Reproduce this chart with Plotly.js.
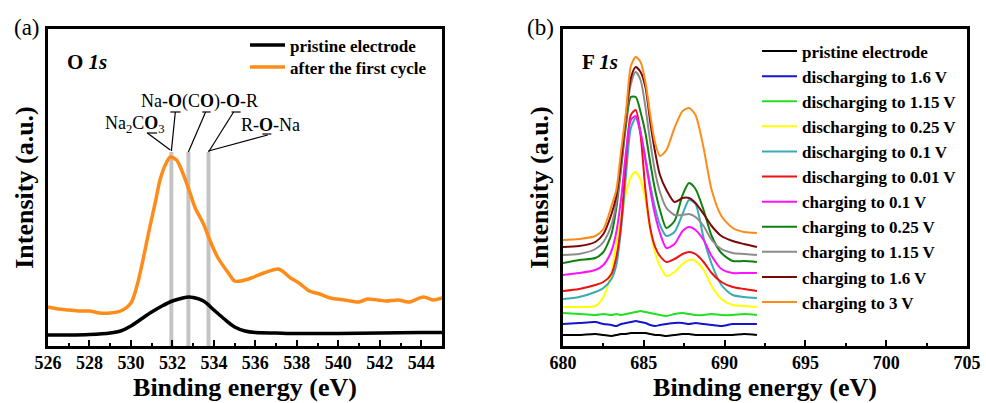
<!DOCTYPE html>
<html>
<head>
<meta charset="utf-8">
<script src="https://cdn.plot.ly/plotly-3.0.1.min.js"></script>
<style>html,body{margin:0;padding:0;background:#fff;}#chart{width:986px;height:403px;}</style>
</head>
<body>
<div id="chart"></div>
<script>
// ---------- Panel (a): O 1s ----------
const oEnergyPristine = [526, 527, 528, 529, 529.5, 530, 530.5, 531, 531.5, 532, 532.5, 532.8, 533, 533.5, 534, 534.5, 535, 535.5, 536, 537, 538, 540, 542, 544, 545];
const oPristine = [11, 11, 11.5, 13, 15, 20, 27, 34, 40, 45, 48, 49, 48.5, 45, 36, 27, 19, 15, 13.5, 13, 12.5, 12.5, 13, 13.5, 13.5];
const oEnergyCycled = [526, 526.5, 527, 527.5, 528, 528.5, 529, 529.5, 530, 530.3, 530.6, 530.9, 531.2, 531.4, 531.7, 531.9, 532.2, 532.5, 532.8, 533.1, 533.5, 533.8, 534.2, 534.7, 535.0, 535.3, 535.8, 536.4, 537.1, 537.3, 537.7, 538.1, 538.6, 539.1, 539.6, 540.3, 541.0, 541.4, 541.9, 542.3, 542.9, 543.4, 544.1, 544.6, 545];
const oCycled = [39, 37, 36, 35, 35, 33, 33, 35, 43, 61, 88, 118, 146, 166, 183, 189, 186, 173, 156, 138, 122, 106, 88, 73, 65, 65, 68, 73, 77, 75, 68, 63, 55, 52, 48, 46, 44, 47, 46, 45, 46, 44, 49, 46, 48];
const oSeriesNames = ['pristine electrode', 'after the first cycle'];
const oComponentEnergies = [531.95, 532.77, 533.74];   // Na2CO3, Na-O(CO)-O-R, R-O-Na
const oComponentTop = 194;

// ---------- Panel (b): F 1s ----------
const fEnergy = [680, 681, 682, 682.5, 683, 683.3, 683.6, 683.9, 684.2, 684.5, 684.8, 685.1, 685.4, 685.7, 686.0, 686.4, 686.9, 687.4, 687.8, 688.2, 688.7, 689.2, 689.8, 690.5, 691.2, 692];
const fPristine   = [11, 11, 12, 11, 10, 11, 12, 12, 13, 13, 13, 13, 12, 11, 11, 10, 11, 12, 12, 11, 11, 11, 11, 11, 12, 11];
const fDis16      = [22, 23, 24, 22, 21, 20, 22, 23, 24, 25, 24, 23, 21, 20, 21, 22, 23, 23, 22, 23, 22, 21, 20, 22, 22, 22];
const fDis115     = [33, 32, 31, 32, 31, 32, 31, 32, 33, 34, 35, 34, 33, 32, 31, 30, 32, 33, 32, 31, 31, 32, 31, 31, 32, 31];
const fDis025     = [39, 39, 40, 49, 74, 103, 129, 153, 169, 174, 166, 146, 116, 93, 80, 70, 74, 82, 86, 85, 76, 60, 47, 41, 40, 39];
const fDis01      = [47, 49, 54, 58, 67, 81, 118, 171, 218, 228, 213, 188, 161, 138, 121, 110, 114, 132, 146, 142, 108, 82, 61, 51, 49, 48];
const fDis001     = [55, 57, 61, 64, 72, 89, 123, 186, 231, 236, 211, 156, 118, 99, 90, 84, 87, 92, 94, 92, 84, 73, 64, 59, 57, 55];
const fCh01       = [71, 73, 76, 81, 95, 114, 148, 194, 226, 230, 214, 186, 156, 131, 113, 98, 102, 115, 119, 116, 106, 90, 77, 73, 73, 73];
const fCh025      = [83, 86, 88, 94, 112, 138, 178, 221, 249, 249, 234, 213, 183, 156, 136, 118, 125, 151, 163, 157, 136, 110, 93, 85, 85, 84];
const fCh115      = [91, 92, 97, 104, 121, 143, 181, 228, 262, 274, 266, 239, 204, 174, 154, 138, 131, 131, 132, 129, 120, 106, 97, 93, 92, 91];
const fCh16       = [99, 100, 104, 112, 132, 150, 186, 231, 268, 279, 274, 259, 224, 194, 171, 156, 144, 148, 148, 143, 132, 120, 110, 105, 102, 99];
const fCh3        = [106, 107, 110, 117, 140, 156, 196, 234, 280, 289, 284, 264, 231, 203, 190, 196, 218, 235, 238, 231, 198, 156, 130, 118, 114, 113];
const fSeriesNames = ['pristine electrode', 'discharging to 1.6 V', 'discharging to 1.15 V', 'discharging to 0.25 V', 'discharging to 0.1 V', 'discharging to 0.01 V', 'charging to 0.1 V', 'charging to 0.25 V', 'charging to 1.15 V', 'charging to 1.6 V', 'charging to 3 V'];
const fSeries = [fPristine, fDis16, fDis115, fDis025, fDis01, fDis001, fCh01, fCh025, fCh115, fCh16, fCh3];
const fColors = ['#000000', '#1515d0', '#22e022', '#ffff00', '#3aaab4', '#ee1111', '#ff11ff', '#118011', '#8c8c8c', '#7a0a0a', '#ff8c1a'];

const FONT = 'Liberation Serif, Times New Roman, serif';
const W = 986, H = 403;
const px = v => v / W, py = v => 1 - v / H;

const traces = [];
traces.push({x: oEnergyPristine, y: oPristine, name: oSeriesNames[0], type: 'scatter', mode: 'lines',
  line: {color: '#000000', width: 3.5, shape: 'spline', smoothing: 0.8}, xaxis: 'x', yaxis: 'y', legend: 'legend'});
traces.push({x: oEnergyCycled, y: oCycled, name: oSeriesNames[1], type: 'scatter', mode: 'lines',
  line: {color: '#ff8c1a', width: 3.5, shape: 'spline', smoothing: 0.8}, xaxis: 'x', yaxis: 'y', legend: 'legend3'});
fSeries.forEach((s, i) => {
  traces.push({x: fEnergy, y: s, name: fSeriesNames[i], type: 'scatter', mode: 'lines',
    line: {color: fColors[i], width: 2, shape: 'spline', smoothing: 0.7}, xaxis: 'x2', yaxis: 'y2', legend: 'legend2'});
});

const shapes = [];
oComponentEnergies.forEach(e => shapes.push({type: 'line', xref: 'x', yref: 'y', x0: e, x1: e, y0: 0, y1: oComponentTop,
  line: {color: '#c4c4c4', width: 4}, layer: 'below'}));
const lead = (x0, y0, x1, y1) => shapes.push({type: 'line', xref: 'x', yref: 'y', x0, y0, x1, y1, line: {color: '#000', width: 1.2}});
lead(530.79, 213, 531.90, 196);
lead(532.14, 234, 531.95, 195);
lead(533.60, 234, 532.77, 194);
lead(534.95, 234, 533.74, 194);
lead(536.60, 211, 533.74, 195);
// underlines of the emphasised O atoms
lead(531.90, 234, 532.39, 234);
lead(533.44, 234, 533.84, 234);
lead(534.85, 234, 535.29, 234);
lead(530.77, 213, 531.26, 213);
lead(536.34, 212, 536.77, 212);

const ann = (x, y, text, size, opts = {}) => Object.assign({xref: 'paper', yref: 'paper', x: px(x), y: py(y), text, showarrow: false,
  font: {family: FONT, size, color: '#000'}, xanchor: 'center', yanchor: 'middle'}, opts);

const annotations = [
  ann(27, 28, '(a)', 23),
  ann(540, 28, '(b)', 23),
  ann(65, 62, '<b>O <i>1s</i></b>', 21, {xanchor: 'left'}),
  ann(580, 62, '<b>F <i>1s</i></b>', 21, {xanchor: 'left'}),
  ann(199, 102, 'Na-<b>O</b>(C<b>O</b>)-<b>O</b>-R', 18),
  ann(135, 125, 'Na<sub>2</sub>C<b>O</b><sub>3</sub>', 18),
  ann(270, 125, 'R-<b>O</b>-Na', 18)
];

const tickFont = {family: FONT, size: 18, color: '#000', weight: 'bold'};
const titleFont = {family: FONT, size: 26, color: '#000', weight: 'bold'};
const legFont = {family: FONT, size: 17, color: '#000', weight: 'bold'};
const xBase = {showline: true, linewidth: 3, linecolor: '#000', mirror: true, showgrid: false, zeroline: false,
  ticks: 'inside', ticklen: 6, tickwidth: 2, tickcolor: '#000', tickfont: tickFont, automargin: false, ticklabelstandoff: -2,
  title: {text: 'Binding energy (eV)', font: titleFont, standoff: 2}};
const yBase = {showline: true, linewidth: 3, linecolor: '#000', mirror: true, showgrid: false, zeroline: false,
  showticklabels: false, ticks: '', range: [0, 317], automargin: false,
  title: {text: 'Intensity (a.u.)', font: titleFont, standoff: 4}};
const yDom = [1 - 346 / H, 1 - 29 / H];
const legBase = {xanchor: 'left', yanchor: 'top', bgcolor: 'rgba(0,0,0,0)', borderwidth: 0, font: legFont, tracegroupgap: 0, itemwidth: 35};

const layout = {
  width: W, height: H, margin: {l: 0, r: 0, t: 0, b: 0}, paper_bgcolor: '#fff', plot_bgcolor: '#fff',
  font: {family: FONT, color: '#000'},
  xaxis: Object.assign({}, xBase, {domain: [48 / W, 442 / W], anchor: 'y', range: [526, 545], tick0: 526, dtick: 2,
    minor: {dtick: 1, ticks: 'inside', ticklen: 3, tickwidth: 2, tickcolor: '#000', showgrid: false}}),
  yaxis: Object.assign({}, yBase, {domain: yDom, anchor: 'x'}),
  xaxis2: Object.assign({}, xBase, {domain: [563 / W, 967 / W], anchor: 'y2', range: [680, 705], tick0: 680, dtick: 5,
    minor: {dtick: 2.5, ticks: 'inside', ticklen: 3, tickwidth: 2, tickcolor: '#000', showgrid: false}}),
  yaxis2: Object.assign({}, yBase, {domain: yDom, anchor: 'x2'}),
  legend: Object.assign({}, legBase, {x: px(245), y: py(27.5)}),
  legend3: Object.assign({}, legBase, {x: px(245), y: py(49.5)}),
  legend2: Object.assign({}, legBase, {x: px(757), y: py(33.5)}),
  showlegend: true,
  shapes, annotations
};

Plotly.newPlot('chart', traces, layout, {displayModeBar: false, staticPlot: true});
</script>
</body>
</html>
